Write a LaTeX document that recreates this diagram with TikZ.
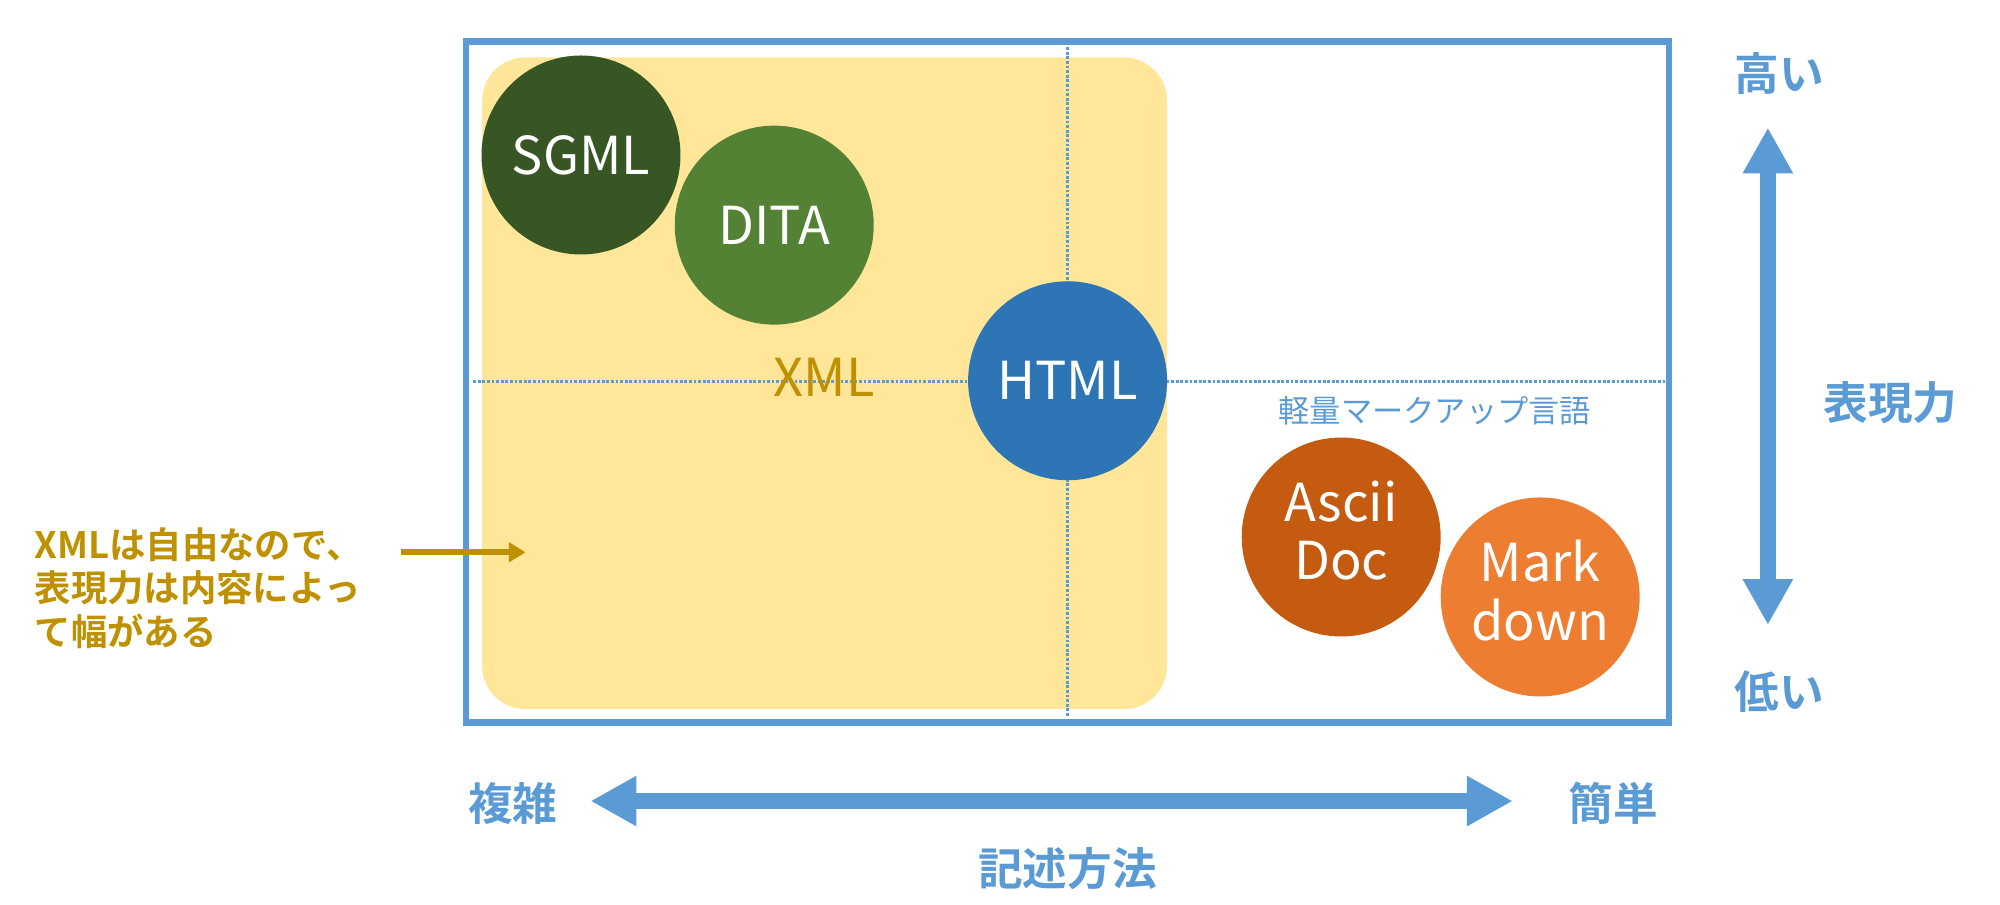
\documentclass[tikz,border=0pt]{standalone}
\usepackage{fontspec}
\setmainfont{Noto Sans CJK JP}[BoldFont={Noto Sans CJK JP Bold}]
\usetikzlibrary{arrows.meta}
\definecolor{axisblue}{HTML}{5B9BD5}
\definecolor{xmlyellow}{HTML}{FFE699}
\definecolor{gold}{HTML}{BF9000}
\definecolor{sgmlgreen}{HTML}{375623}
\definecolor{ditagreen}{HTML}{548235}
\definecolor{htmlblue}{HTML}{2E75B6}
\definecolor{asciiorange}{HTML}{C55A11}
\definecolor{mdorange}{HTML}{ED7D31}
\begin{document}
\begin{tikzpicture}[x=1pt,y=-1pt,
  bubble/.style={circle, minimum size=156pt, inner sep=0pt, text=white, align=center,
    font=\fontsize{41}{46}\selectfont},
  bubbletwo/.style={circle, minimum size=156pt, inner sep=0pt,
    label={[text=white, align=center, inner sep=0pt, yshift=5pt,
      font=\fontsize{41}{46}\selectfont]center:#1}},
  axislabel/.style={text=axisblue, font=\bfseries\fontsize{35}{40}\selectfont, inner sep=0pt},
  dotline/.style={draw=axisblue, line width=2.7pt, dash pattern=on 2.2pt off 1.4pt},
  bigarrow/.style={draw=axisblue, line width=12pt,
    {Triangle[width=37pt,length=36pt]}-{Triangle[width=37pt,length=36pt]}},
  notearrow/.style={draw=gold, line width=4.5pt, -{Triangle[width=15pt,length=13pt]}},
]
\useasboundingbox (0,0) rectangle (1568,709);

% XML area
\node[fill=xmlyellow, rounded corners=34pt, minimum width=537pt, minimum height=511pt,
  inner sep=0pt, outer sep=0pt] (xmlarea) at (646.5,300.5) {};

% frame (drawn as node)
\node[draw=axisblue, line width=5pt, minimum width=943pt, minimum height=534pt,
  inner sep=0pt, outer sep=0pt] (frame) at (837,299.5) {};

% dotted quadrant lines
\coordinate (vtop) at (837,37);
\coordinate (vbot) at (837,562);
\coordinate (hl) at (371,299);
\coordinate (hr) at (1305,299);
\draw[dotline] (vtop) -- (vbot);
\draw[dotline] (hl) -- (hr);

% XML label
\node[text=gold, font=\fontsize{41}{46}\selectfont, inner sep=0pt] (xml) at (646,296) {XML};

% bubbles
\node[bubble, fill=sgmlgreen] (sgml) at (455.5,121.5) {SGML};
\node[bubble, fill=ditagreen] (dita) at (607,176.5) {DITA};
\node[bubble, fill=htmlblue] (html) at (837,298.5) {HTML};
\node[bubbletwo={Ascii\\Doc}, fill=asciiorange] (ascii) at (1051.5,421) {};
\node[bubbletwo={Mark\\down}, fill=mdorange] (md) at (1207.5,468) {};

% lightweight markup label
\node[text=axisblue, font=\fontsize{24.5}{28}\selectfont, inner sep=0pt] (light) at (1125,322) {軽量マークアップ言語};

% vertical axis
\coordinate (atop) at (1386,100);
\coordinate (abot) at (1386,490);
\draw[bigarrow] (atop) -- (abot);
\node[axislabel] (high) at (1395,58) {高い};
\node[axislabel] (low) at (1395,542) {低い};
\node[axislabel] (expr) at (1482,316) {表現力};

% horizontal axis
\coordinate (aleft) at (463,628);
\coordinate (aright) at (1186,628);
\draw[bigarrow] (aleft) -- (aright);
\node[axislabel] (complex) at (402,630) {複雑};
\node[axislabel] (simple) at (1265,630) {簡単};
\node[axislabel] (method) at (837,681) {記述方法};

% note
\node[text=gold, font=\bfseries\fontsize{28.5}{34}\selectfont, align=left, anchor=west, inner sep=0pt]
  (note) at (27,461) {XMLは自由なので、\\表現力は内容によっ\\て幅がある};
\coordinate (nstart) at (314,433);
\coordinate (nend) at (412,433);
\draw[notearrow] (nstart) -- (nend);
\end{tikzpicture}
\end{document}
